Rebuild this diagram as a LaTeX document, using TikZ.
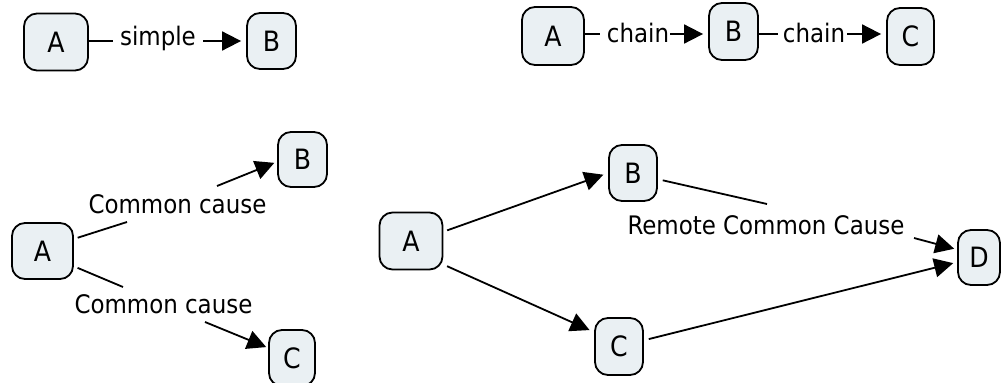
\documentclass[tikz,border=0pt]{standalone}
\usepackage{fontspec}
\setmainfont{DejaVu Sans Condensed}
\usetikzlibrary{arrows.meta}
\definecolor{boxfill}{HTML}{EAF0F3}
\tikzset{
  box/.style={draw=black, line width=1.8pt, fill=boxfill, rounded corners=13pt,
    inner sep=0pt, font=\fontsize{28}{32}\selectfont},
  lbl/.style={inner sep=0pt, anchor=base, font=\fontsize{25.5}{30}\selectfont},
  conn/.style={line width=1.8pt, draw=black},
  arr/.style={conn, -{Triangle[length=19pt,width=19pt]}},
}
\begin{document}
\begin{tikzpicture}[x=1pt,y=-1pt]
\useasboundingbox (0,0) rectangle (1002,383);
\clip (0,0) rectangle (1002,383);
% ---- simple ----
\node[box, minimum width=64pt, minimum height=57pt] (a1) at (56,42) {A};
\node[box, minimum width=49pt, minimum height=56pt] (b1) at (271.5,41) {B};
\node[lbl] (s1) at (158,45) {simple};
\coordinate (p1) at (113,41);
\coordinate (p2) at (203,41);
\draw[conn] (a1.east |- p1) -- (p1);
\draw[arr, shorten >=5pt] (p2) -- (b1.west |- p2);
% ---- chain ----
\node[box, minimum width=62pt, minimum height=58pt] (a2) at (553,36) {A};
\node[box, minimum width=49pt, minimum height=57pt] (b2) at (733.5,31.5) {B};
\node[box, minimum width=47pt, minimum height=57pt] (c2) at (910.5,36.5) {C};
\node[lbl] (ch1) at (638,42) {chain};
\node[lbl] (ch2) at (814,42) {chain};
\coordinate (q1) at (600,34);
\coordinate (q2) at (670,34);
\coordinate (q3) at (778,34);
\coordinate (q4) at (847,34);
\draw[conn] (a2.east |- q1) -- (q1);
\draw[arr, shorten >=5pt] (q2) -- (b2.west |- q2);
\draw[conn] (b2.east |- q3) -- (q3);
\draw[arr, shorten >=5pt] (q4) -- (c2.west |- q4);
% ---- common cause ----
\node[box, minimum width=61pt, minimum height=56pt] (a3) at (42.5,251) {A};
\node[box, minimum width=49pt, minimum height=55pt] (b3) at (302.5,159.5) {B};
\node[box, minimum width=46pt, minimum height=56pt] (c3) at (292,358) {C};
\node[lbl] (cc1) at (177.5,213) {Common cause};
\node[lbl] (cc2) at (163.5,313) {Common cause};
\coordinate (r1) at (127,222);
\coordinate (r2) at (217,186);
\coordinate (r3) at (123,287);
\coordinate (r4) at (205,322);
\draw[conn, shorten <=4pt] (a3.21) -- (r1);
\draw[arr, shorten >=3pt] (r2) -- (b3.185);
\draw[conn, shorten <=4pt] (a3.-26) -- (r3);
\draw[arr, shorten >=2pt] (r4) -- (c3.157);
% ---- remote common cause ----
\node[box, minimum width=63pt, minimum height=57pt] (a4) at (411,241) {A};
\node[box, minimum width=48pt, minimum height=56pt] (b4) at (633,173) {B};
\node[box, minimum width=48pt, minimum height=57pt] (c4) at (619,346.5) {C};
\node[box, minimum width=42pt, minimum height=55pt] (d4) at (979,257.5) {D};
\node[lbl] (rc) at (766,234) {Remote Common Cause};
\coordinate (t1) at (767,204);
\coordinate (t2) at (914,238);
\draw[arr, shorten <=4pt, shorten >=5pt] (a4.16) -- (b4.west);
\draw[arr, shorten <=4pt, shorten >=5pt] (a4.-36) -- (c4.150);
\draw[arr, shorten <=5pt, shorten >=4pt] (c4.14) -- (d4.192);
\draw[conn, shorten <=5pt] (b4.-14) -- (t1);
\draw[arr, shorten >=3pt] (t2) -- (d4.160);
\end{tikzpicture}
\end{document}
